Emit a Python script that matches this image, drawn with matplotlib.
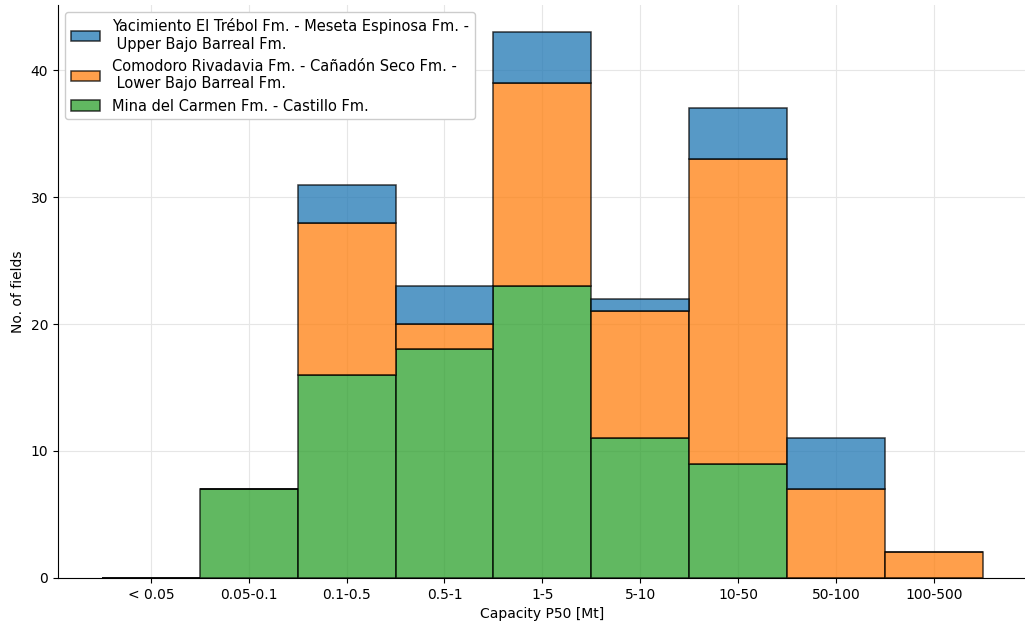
import numpy as np
from matplotlib import pyplot as plt

#data area
categories=["< 0.05", "0.05-0.1", "0.1-0.5", "0.5-1", "1-5", "5-10", "10-50", "50-100", "100-500"]
green_counts=[0, 7, 16, 18, 23, 11, 9, 0, 0]
orange_counts=[0, 0, 12, 2, 16, 10, 24, 7, 2]
blue_counts=[0, 0, 3, 3, 4, 1, 4, 4, 0]

labels=["Yacimiento El Trébol Fm. - Meseta Espinosa Fm. -\n Upper Bajo Barreal Fm.",
        "Comodoro Rivadavia Fm. - Cañadón Seco Fm. -\n Lower Bajo Barreal Fm.",
        "Mina del Carmen Fm. - Castillo Fm."]

#plot area
fig=plt.figure(figsize=(10.25, 6.26), dpi=100)
ax=fig.add_axes([0.0566, 0.077, 0.945, 0.915])

x=np.arange(len(categories))
g=np.array(green_counts)
o=np.array(orange_counts)
b=np.array(blue_counts)

kw=dict(width=1.0, alpha=0.75, edgecolor="black", linewidth=1.1, zorder=3)
hg=ax.bar(x, g, color="tab:green", **kw)
ho=ax.bar(x, o, bottom=g, color="tab:orange", **kw)
hb=ax.bar(x, b, bottom=g+o, color="tab:blue", **kw)

ax.set_xticks(x)
ax.set_xticklabels(categories, fontsize=10)
ax.set_xlim(-0.95, 8.95)
ax.set_ylim(0, 45.15)
ax.set_yticks([0, 10, 20, 30, 40])
ax.tick_params(axis="y", labelsize=10)
ax.set_xlabel("Capacity P50 [Mt]", fontsize=10)
ax.set_ylabel("No. of fields", fontsize=10)
ax.grid(True, color="#e6e6e6", linewidth=0.8, zorder=0)
ax.spines["top"].set_visible(False)
ax.spines["right"].set_visible(False)

ax.legend([hb, ho, hg], labels, loc="upper left", fontsize=10.5, framealpha=1, edgecolor="#cccccc")

plt.savefig("out.png", dpi=100)
